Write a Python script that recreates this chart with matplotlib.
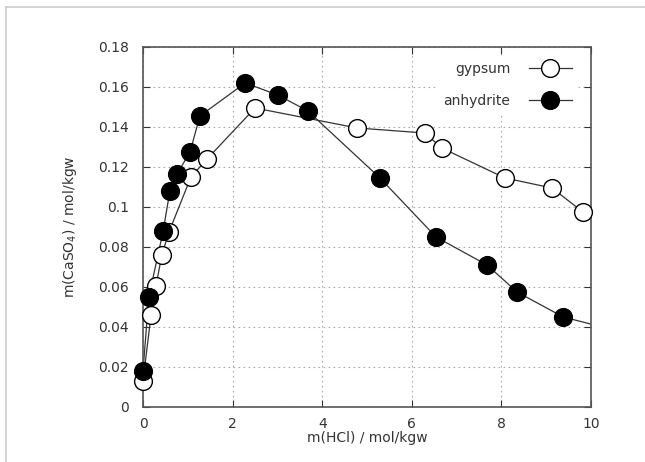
import matplotlib
matplotlib.use("Agg")
import matplotlib.pyplot as plt
from matplotlib.lines import Line2D
import numpy as np

gypsum_x = [0.0, 0.18, 0.29, 0.42, 0.58, 1.07, 1.43, 2.50, 4.78, 6.29, 6.67, 8.08, 9.13, 9.82, 10.6]
gypsum_y = [0.013, 0.046, 0.0605, 0.076, 0.0875, 0.115, 0.124, 0.1495, 0.1395, 0.137, 0.1295, 0.1145, 0.1095, 0.0975, 0.0965]
anhydrite_x = [0.0, 0.13, 0.45, 0.60, 0.76, 1.05, 1.27, 2.28, 3.01, 3.68, 5.29, 6.54, 7.68, 8.35, 9.38, 10.6]
anhydrite_y = [0.018, 0.055, 0.088, 0.108, 0.1165, 0.1275, 0.1455, 0.162, 0.156, 0.148, 0.1145, 0.085, 0.071, 0.0575, 0.045, 0.038]
x_ticks = [0, 2, 4, 6, 8, 10]
y_ticks = [0, 0.02, 0.04, 0.06, 0.08, 0.1, 0.12, 0.14, 0.16, 0.18]
y_tick_labels = ["0", "0.02", "0.04", "0.06", "0.08", "0.1", "0.12", "0.14", "0.16", "0.18"]

W, H = 645, 462
fig = plt.figure(figsize=(W / 100, H / 100), dpi=100)
ax = fig.add_axes([143 / W, 1 - 407 / H, (591 - 143) / W, (407 - 47) / H])

# light page border (top and left)
fig.add_artist(Line2D([6 / W, 1.0], [1 - 7 / H, 1 - 7 / H], transform=fig.transFigure,
                      color="#cccccc", lw=1.2))
fig.add_artist(Line2D([6 / W, 6 / W], [0, 1 - 7 / H], transform=fig.transFigure,
                      color="#cccccc", lw=1.2))

XMAX = 10
ms = 12.8
series = [
    ("gypsum", gypsum_x, gypsum_y, "white"),
    ("anhydrite", anhydrite_x, anhydrite_y, "black"),
]
handles = []
for name, xs, ys, fc in series:
    xs = np.asarray(xs)
    ys = np.asarray(ys)
    ax.plot(xs, ys, color="#333333", lw=0.9, zorder=2)
    m = xs <= XMAX
    ax.plot(xs[m], ys[m], ls="none", marker="o", ms=ms, mfc=fc, mec="black",
            mew=1.0, clip_on=False, zorder=3)
    handles.append(Line2D([], [], color="#333333", lw=0.9, marker="o", ms=ms,
                          mfc=fc, mec="black", mew=1.0, label=name))

ax.set_xlim(0, XMAX)
ax.set_ylim(0, 0.18)
ax.set_xticks(x_ticks)
ax.set_yticks(y_ticks)
ax.set_yticklabels(y_tick_labels)
ax.tick_params(direction="in", top=True, right=True, length=5, width=0.8,
               labelsize=10, colors="#333333")
ax.tick_params(axis="y", pad=10)
ax.tick_params(axis="x", pad=7)
ax.grid(True, linestyle=(0, (1.5, 3)), color="#aaaaaa", lw=0.8)
for s in ax.spines.values():
    s.set_color("#555555")
    s.set_linewidth(1.2)

ax.set_xlabel("m(HCl) / mol/kgw", fontsize=10, color="#333333", labelpad=0)
ax.set_ylabel("m(CaSO$_4$) / mol/kgw", fontsize=10, color="#333333", labelpad=14)

leg = ax.legend(handles=handles, loc="upper right", bbox_to_anchor=(0.969, 0.975),
                frameon=True, fontsize=10, markerfirst=False, handlelength=3.1,
                handletextpad=1.3, borderaxespad=0, borderpad=0.4,
                labelspacing=1.3, framealpha=1.0, fancybox=False)
leg.get_frame().set_edgecolor("white")
leg.set_zorder(5)
for t in leg.get_texts():
    t.set_color("#333333")

fig.savefig("out.png", dpi=100)
